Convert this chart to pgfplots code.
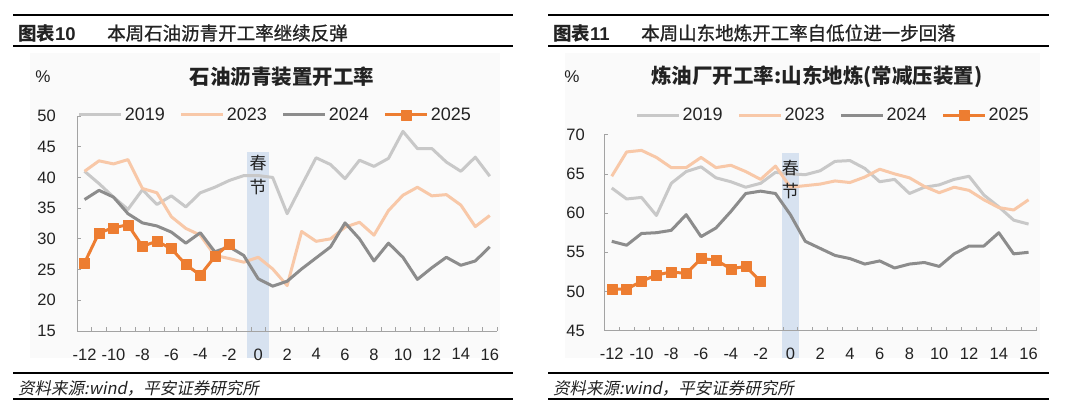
\documentclass[border=0pt]{standalone}
\usepackage{pgfplots}
\usepackage{pgfplotstable}
\pgfplotsset{compat=1.18}
\usepackage{fontspec}
\setmainfont{Liberation Sans}
\newfontfamily\cjk{Noto Sans CJK SC}
\newfontfamily\cjkmed[FakeBold=1]{Noto Sans CJK SC}
\newfontfamily\cjkit[FakeSlant=0.2]{Noto Sans CJK SC}

\definecolor{c19}{HTML}{C8C8C8}
\definecolor{c23}{HTML}{F8C8A8}
\definecolor{c24}{HTML}{8C8C8C}
\definecolor{c25}{HTML}{ED7D31}
\definecolor{band}{HTML}{D7E2F0}
\definecolor{axgray}{HTML}{A3A3A3}
\definecolor{txt}{HTML}{222222}
\definecolor{panelbg}{HTML}{FAFAFA}

\newcommand\ticksz{\fontsize{16.5pt}{19pt}\selectfont}
\newcommand\legsz{\fontsize{18pt}{20pt}\selectfont}

% weeks around the Spring Festival (0)
\pgfplotstableread{
wk  y19  y23  y24  y25
-12 41.0 41.0 36.4 26.1
-11 39.0 42.7 37.9 31.0
-10 36.8 42.2 36.8 31.8
-9  34.8 42.9 34.1 32.3
-8  38.0 38.2 32.6 28.8
-7  35.6 37.5 32.1 29.6
-6  37.0 33.6 31.1 28.4
-5  35.2 31.7 29.3 25.8
-4  37.5 30.6 31.0 24.1
-3  38.4 27.3 27.9 27.1
-2  39.5 26.8 28.7 29.2
-1  40.3 26.2 27.3 nan
0   40.3 27.0 23.5 nan
1   40.0 25.1 22.3 nan
2   34.1 22.4 23.1 nan
3   38.7 31.2 25.1 nan
4   43.2 29.6 26.9 nan
5   42.1 30.0 28.7 nan
6   39.8 31.9 32.6 nan
7   42.8 32.7 30.0 nan
8   41.8 30.6 26.4 nan
9   43.1 34.6 29.3 nan
10  47.5 37.1 27.0 nan
11  44.7 38.4 23.4 nan
12  44.7 37.0 25.3 nan
13  42.5 37.2 27.0 nan
14  41.0 35.5 25.7 nan
15  43.3 32.0 26.4 nan
16  40.2 33.8 28.7 nan
}\asphalt

\pgfplotstableread{
wk  y19  y23  y24  y25
-12 63.2 64.7 56.4 50.3
-11 61.8 67.8 55.9 50.3
-10 62.0 68.0 57.4 51.3
-9  59.7 67.1 57.5 52.1
-8  63.8 65.8 57.8 52.5
-7  65.3 65.8 59.8 52.3
-6  65.9 67.1 57.0 54.2
-5  64.5 65.8 58.1 54.0
-4  64.0 66.1 60.2 52.9
-3  63.3 65.3 62.5 53.2
-2  63.8 64.3 62.8 51.3
-1  65.2 66.0 62.5 nan
0   65.0 63.3 59.8 nan
1   64.9 63.5 56.4 nan
2   65.4 63.7 55.5 nan
3   66.6 64.1 54.6 nan
4   66.7 63.9 54.2 nan
5   65.7 64.6 53.5 nan
6   64.0 65.6 53.9 nan
7   64.3 65.0 53.0 nan
8   62.5 64.5 53.5 nan
9   63.3 63.4 53.7 nan
10  63.6 62.6 53.2 nan
11  64.3 63.3 54.8 nan
12  64.7 62.9 55.8 nan
13  62.3 61.7 55.8 nan
14  60.8 60.7 57.5 nan
15  59.1 60.4 54.8 nan
16  58.6 61.7 55.0 nan
}\refinery

\pgfplotsset{
  panel/.style={
    scale only axis, clip=false, axis on top,
    axis x line*=bottom, axis y line*=left,
    axis line style={draw=axgray, line width=1pt, -},
    xmin=-12.5, xmax=16.5,
    xtick={-12.5,-11.5,-10.5,-9.5,-8.5,-7.5,-6.5,-5.5,-4.5,-3.5,-2.5,-1.5,-0.5,0.5,1.5,2.5,3.5,4.5,5.5,6.5,7.5,8.5,9.5,10.5,11.5,12.5,13.5,14.5,15.5,16.5},
    xticklabels={},
    extra x ticks={-12,-10,-8,-6,-4,-2,0,2,4,6,8,10,12,14,16},
    extra x tick labels={-12,-10,-8,-6,-4,-2,0,2,4,6,8,10,12,14,16},
    extra x tick style={tick style={draw=none}},
    tick align=inside, major tick length=4pt,
    tick style={draw=axgray, line width=0.8pt},
    ticklabel style={font=\ticksz, text=txt},
    xticklabel style={yshift=-14pt},
    /pgf/number format/assume math mode=true,
    unbounded coords=jump,
    legend columns=4,
    legend style={draw=none, fill=none, font=\legsz, text=txt,
      nodes={inner sep=2pt},
      /tikz/every even column/.append style={column sep=13pt}},
    legend image code/.code={%
      \draw[mark repeat=2,mark phase=2] plot coordinates {(0pt,0pt) (21pt,0pt) (42pt,0pt)};},
    every axis plot/.append style={line width=3pt, line join=round},
  },
  yr25/.style={c25, mark=square*, mark size=5pt, mark options={solid, line width=0.4pt}},
}

\begin{document}
\begin{tikzpicture}[x=1pt,y=1pt]
\path (0,0) rectangle (1080,416);

% panel backgrounds
\fill[panelbg] (30,58) rectangle (500,363);
\fill[panelbg] (565,58) rectangle (1040,363);

% header rules and titles
\draw[line width=1.6pt] (13,401) -- (513,401);
\draw[line width=1.6pt] (13,370) -- (513,370);
\draw[line width=1.6pt] (548,401) -- (1049,401);
\draw[line width=1.6pt] (548,370) -- (1049,370);
\node[anchor=west, inner sep=0pt, text=txt, font={\fontsize{18.5pt}{20pt}\selectfont\bfseries}] at (18,383) {{\cjk\bfseries 图表}10};
\node[anchor=west, inner sep=0pt, text=txt, font={\fontsize{18.5pt}{20pt}\selectfont\cjkmed}] at (107,383) {本周石油沥青开工率继续反弹};
\node[anchor=west, inner sep=0pt, text=txt, font={\fontsize{18.5pt}{20pt}\selectfont\bfseries}] at (553,383) {{\cjk\bfseries 图表}11};
\node[anchor=west, inner sep=0pt, text=txt, font={\fontsize{18.5pt}{20pt}\selectfont\cjkmed}] at (641,383) {本周山东地炼开工率自低位进一步回落};

% source rules
\draw[line width=1.3pt] (13,43) -- (513,43);
\draw[line width=1.3pt] (13,17) -- (513,17);
\draw[line width=1.3pt] (548,43) -- (1049,43);
\draw[line width=1.3pt] (548,17) -- (1049,17);
\node[anchor=west, inner sep=0pt, text=txt, font={\fontsize{16.5pt}{18pt}\selectfont\cjkit}] at (18,28) {资料来源:wind，平安证券研究所};
\node[anchor=west, inner sep=0pt, text=txt, font={\fontsize{16.5pt}{18pt}\selectfont\cjkit}] at (553,28) {资料来源:wind，平安证券研究所};

% chart titles
\node[text=txt, font={\fontsize{17pt}{19pt}\selectfont}] at (43,339) {\%};
\node[text=txt, font={\fontsize{20.5pt}{22pt}\selectfont\cjk\bfseries}] at (282,339) {石油沥青装置开工率};
\node[text=txt, font={\fontsize{17pt}{19pt}\selectfont}] at (572,339) {\%};
\node[text=txt, font={\fontsize{20.5pt}{22pt}\selectfont\cjk\bfseries}] at (817,339) {炼油厂开工率:山东地炼(常减压装置)};

% left chart
\begin{axis}[panel, at={(77.3pt,85pt)}, anchor=south west,
  width=419.7pt, height=215pt,
  ymin=15, ymax=50, ytick={15,20,...,50},
  yticklabel style={xshift=-18pt},
  legend style={at={(0.472,1.005)}, anchor=center}]
  \fill[band] (axis cs:-0.76,10.6) rectangle (axis cs:0.76,44.2);
  \addplot[c19] table[x=wk,y=y19]{\asphalt};
  \addplot[c23] table[x=wk,y=y23]{\asphalt};
  \addplot[c24] table[x=wk,y=y24]{\asphalt};
  \addplot[yr25] table[x=wk,y=y25]{\asphalt};
  \legend{2019,2023,2024,2025}
  \node[text=txt, font={\fontsize{17pt}{19pt}\selectfont\cjk}] at (axis cs:0,42.3) {春};
  \node[text=txt, font={\fontsize{17pt}{19pt}\selectfont\cjk}] at (axis cs:0,38.4) {节};
\end{axis}

% right chart
\begin{axis}[panel, at={(604.3pt,85.3pt)}, anchor=south west,
  width=431.7pt, height=196pt,
  ymin=45, ymax=70, ytick={45,50,...,70},
  yticklabel style={xshift=-16pt},
  legend style={at={(0.530,1.10)}, anchor=center}]
  \fill[band] (axis cs:-0.56,41.5) rectangle (axis cs:0.58,67.7);
  \addplot[c19] table[x=wk,y=y19]{\refinery};
  \addplot[c23] table[x=wk,y=y23]{\refinery};
  \addplot[c24] table[x=wk,y=y24]{\refinery};
  \addplot[yr25] table[x=wk,y=y25]{\refinery};
  \legend{2019,2023,2024,2025}
  \node[text=txt, font={\fontsize{17pt}{19pt}\selectfont\cjk}] at (axis cs:0,65.75) {春};
  \node[text=txt, font={\fontsize{17pt}{19pt}\selectfont\cjk}] at (axis cs:0,62.8) {节};
\end{axis}
\end{tikzpicture}
\end{document}
